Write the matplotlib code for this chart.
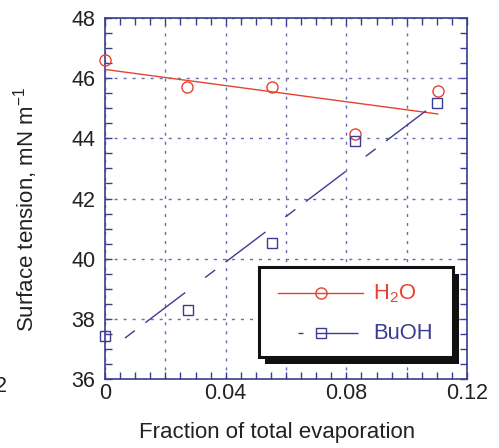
import matplotlib
matplotlib.use("Agg")
import matplotlib.pyplot as plt
from matplotlib.lines import Line2D
from matplotlib.patches import Rectangle
from matplotlib.ticker import MultipleLocator, FuncFormatter

plt.rcParams['font.family'] = ['Liberation Sans', 'DejaVu Sans']
plt.rcParams['mathtext.fontset'] = 'custom'
plt.rcParams['mathtext.rm'] = 'Liberation Sans'
plt.rcParams['mathtext.default'] = 'regular'
plt.rcParams['lines.scale_dashes'] = False

# measured surface tension vs. fraction evaporated
frac_h2o = [0.0, 0.0271, 0.0553, 0.0829, 0.1103]
st_h2o = [46.62, 45.71, 45.71, 44.16, 45.57]
frac_buoh = [0.0, 0.0274, 0.0553, 0.0829, 0.1101]
st_buoh = [37.43, 38.29, 40.53, 43.91, 45.16]

# linear fits
fit_h2o_x = [0.0, 0.1103]
fit_h2o_y = [46.29, 44.81]
fit_buoh_x = [0.0066, 0.1066]
fit_buoh_y = [37.36, 44.93]

red = '#e5432f'
navy = '#3c3c90'
grid_col = '#6c6cb0'
text_col = '#222222'
buoh_dash = (9, 9.4, 36, 18)

fig = plt.figure(figsize=(4.99, 4.48), dpi=100)
ax = fig.add_axes([105 / 499, 1 - 379 / 448, 362 / 499, 361 / 448])

ax.set_xlim(0, 0.12)
ax.set_ylim(36, 48)

ax.plot(fit_h2o_x, fit_h2o_y, color=red, lw=1.0, zorder=3)
ax.plot(fit_buoh_x, fit_buoh_y, color=navy, lw=1.0, zorder=3,
        linestyle=(0, buoh_dash))
ax.plot(frac_h2o, st_h2o, ls='none', marker='o', ms=8, mfc='none',
        mec=red, mew=1.0, zorder=4, clip_on=False)
ax.plot(frac_buoh, st_buoh, ls='none', marker='s', ms=7.5, mfc='none',
        mec=navy, mew=1.0, zorder=4, clip_on=False)

# ticks and grid
ax.xaxis.set_major_locator(MultipleLocator(0.02))
ax.xaxis.set_minor_locator(MultipleLocator(0.005))
ax.yaxis.set_major_locator(MultipleLocator(2))
ax.yaxis.set_minor_locator(MultipleLocator(0.5))


def xfmt(v, pos):
    k = round(v / 0.02)
    if k % 2:
        return ''
    return '0' if k == 0 else f'{v:.2f}'


ax.xaxis.set_major_formatter(FuncFormatter(xfmt))
ax.yaxis.set_major_formatter(FuncFormatter(lambda v, p: f'{v:.0f}'))
ax.tick_params(which='both', direction='in', top=True, right=True,
               color=navy, width=1.0, length=5, labelcolor=text_col,
               labelsize=15.5)
ax.tick_params(axis='x', which='major', pad=3)
ax.tick_params(axis='y', which='major', pad=7)
ax.grid(True, which='major', color=grid_col, lw=1.0, linestyle=(0, (2.2, 4.3)))
for s in ax.spines.values():
    s.set_color(navy)
    s.set_linewidth(1.2)

fig.text(277 / 499, 1 - 432 / 448, 'Fraction of total evaporation',
         ha='center', va='center', fontsize=16, color=text_col)
fig.text(26 / 499, 1 - 209 / 448, 'Surface tension, mN m$^{-1}$',
         ha='center', va='center', rotation=90, fontsize=16, color=text_col)
fig.text(7 / 499, 1 - 386 / 448, '2', ha='right', va='center',
         fontsize=15.5, color=text_col)

# legend box with drop shadow
bx0, by0, bx1, by1 = 0.4254, 0.0618, 0.9605, 0.311
ax.add_patch(Rectangle((bx0 + 0.0166, by0 - 0.0194), bx1 - bx0, by1 - by0,
                       transform=ax.transAxes, facecolor='#111111',
                       edgecolor='none', zorder=6))
ax.add_patch(Rectangle((bx0, by0), bx1 - bx0, by1 - by0,
                       transform=ax.transAxes, facecolor='white',
                       edgecolor='#111111', lw=2.2, zorder=7))

ly1 = (379 - 293.3) / 361
ly2 = (379 - 333.3) / 361
mx = (321 - 105) / 362
ax.add_line(Line2D([(278 - 105) / 362, (363 - 105) / 362], [ly1, ly1],
                   transform=ax.transAxes, color=red, lw=1.0, zorder=8))
ax.add_line(Line2D([mx], [ly1], transform=ax.transAxes, ls='none',
                   marker='o', ms=8, mfc='none', mec=red, mew=1.0, zorder=8))
ax.add_line(Line2D([(298 - 105) / 362, (358 - 105) / 362], [ly2, ly2],
                   transform=ax.transAxes, color=navy, lw=1.0, zorder=8,
                   linestyle=(5.4, buoh_dash)))
ax.add_line(Line2D([mx], [ly2], transform=ax.transAxes, ls='none',
                   marker='s', ms=7.5, mfc='none', mec=navy, mew=1.0, zorder=8))
tx = (373.5 - 105) / 362
ax.text(tx, ly1, 'H$_2$O', transform=ax.transAxes, color=red,
        fontsize=15.8, va='center', ha='left', zorder=9)
ax.text(tx, ly2, 'BuOH', transform=ax.transAxes, color=navy,
        fontsize=15.8, va='center', ha='left', zorder=9)

fig.savefig('out.png', dpi=100)
